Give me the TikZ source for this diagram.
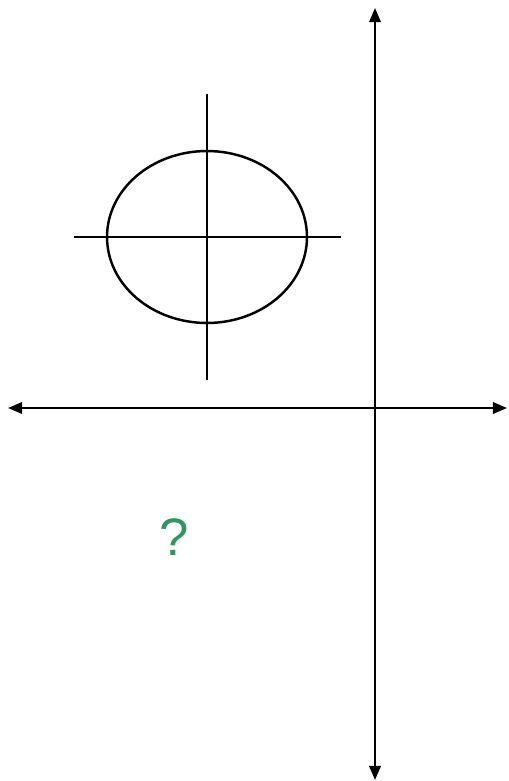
\documentclass[tikz,border=0pt]{standalone}
\usepackage{fontspec}
\setmainfont{Liberation Sans}
\usepackage{xcolor}
\usetikzlibrary{arrows.meta, shapes.geometric, positioning}
\definecolor{qgreen}{RGB}{46,150,100}

\begin{document}
\begin{tikzpicture}[
    x=0.02cm, y=-0.02cm,
    axis/.style={{Triangle[length=8pt, width=6.5pt]}-{Triangle[length=8pt, width=6.5pt]}, line width=1.25pt},
    cross/.style={line width=1.2pt},
    oval/.style={draw, ellipse, line width=1.4pt, minimum width=4cm, minimum height=3.44cm, inner sep=0pt}
  ]
  \useasboundingbox (0,0) rectangle (508,781);
  % axes
  \coordinate (top) at (375,8);
  \coordinate (bottom) at (375,780);
  \coordinate (left) at (8,408);
  \coordinate (right) at (507,408);
  \draw[axis] (top) -- (bottom);
  \draw[axis] (left) -- (right);

  % ellipse with cross
  \node[oval] (blob) at (207,237) {};
  \coordinate (cl) at (74,237);
  \coordinate (cr) at (341,237);
  \coordinate (ct) at (207,94);
  \coordinate (cb) at (207,380);
  \draw[cross] (cl) -- (cr);
  \draw[cross] (ct) -- (cb);

  \node[text=qgreen, font=\fontsize{30}{36}\selectfont] (what) at (174,537) {?};
\end{tikzpicture}
\end{document}
